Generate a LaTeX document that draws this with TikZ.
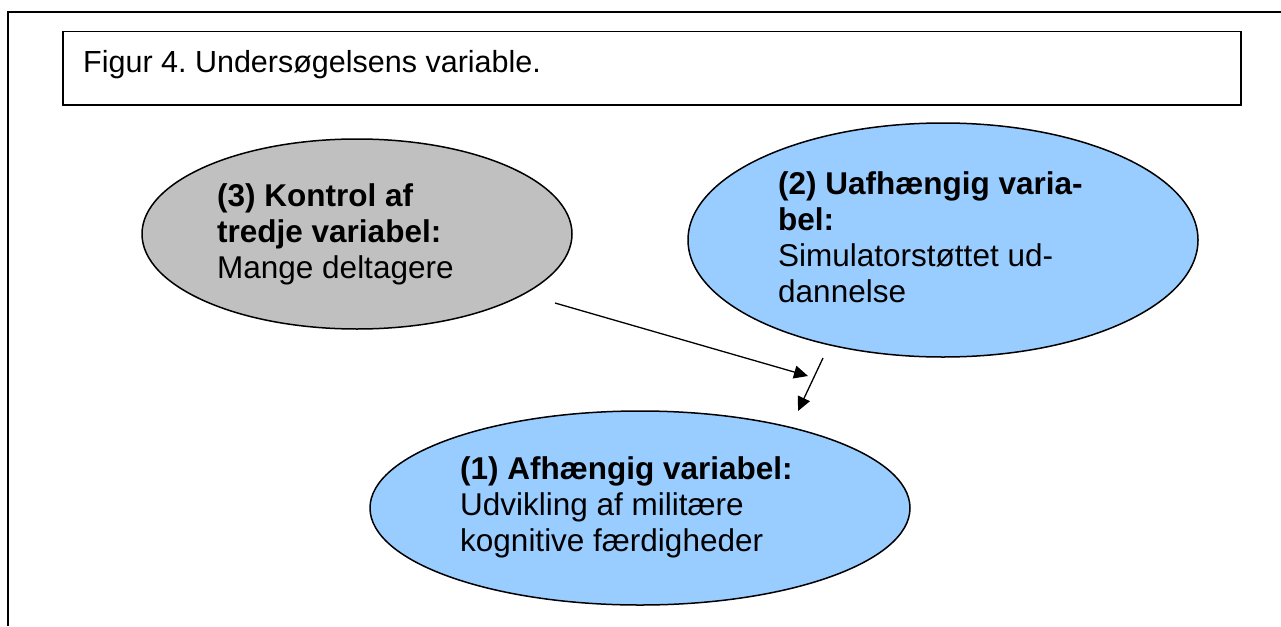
\documentclass[tikz,border=0pt]{standalone}
\usepackage{fontspec}
\setmainfont{Liberation Sans}
\usetikzlibrary{shapes.geometric,arrows.meta}
\definecolor{grayfill}{HTML}{C0C0C0}
\definecolor{bluefill}{HTML}{99CCFF}
\frenchspacing
\tikzset{
  oval/.style={ellipse, draw=black, line width=1.5pt, inner sep=0pt},
  txt/.style={anchor=base west, inner sep=0pt, font=\fontsize{31.5}{36}\selectfont},
  btxt/.style={txt, font=\fontsize{31.5}{36}\selectfont\bfseries},
  conn/.style={line width=1.3pt, -{Triangle[length=14pt,width=13pt]}},
}
\begin{document}
\begin{tikzpicture}[x=1pt,y=-1pt]
\useasboundingbox (0,0) rectangle (1281,626);
% outer frame (left and top)
\draw[line width=2pt] (8,626) -- (8,12) -- (1281,12);
% title box
\node[draw=black, line width=1.5pt, minimum width=1178pt, minimum height=73pt, inner sep=0pt, anchor=north west] (title) at (62,31) {};
\node[txt, font=\fontsize{30.5}{36}\selectfont] (titletext) at (83,72) {Figur 4. Undersøgelsens variable.};
% ellipses
\node[oval, fill=grayfill, minimum width=430pt, minimum height=190pt] (e3) at (357,234) {};
\node[oval, fill=bluefill, minimum width=510pt, minimum height=234pt] (e2) at (943,240) {};
\node[oval, fill=bluefill, minimum width=540pt, minimum height=194pt] (e1) at (640,508) {};
% texts
\node[btxt] (t3a) at (217,206) {(3) Kontrol af};
\node[btxt] (t3b) at (217,242) {tredje variabel:};
\node[txt]  (t3c) at (217,278) {Mange deltagere};
\node[btxt] (t2a) at (778,194) {(2) Uafhængig varia-};
\node[btxt] (t2b) at (778,230) {bel:};
\node[txt]  (t2c) at (778,266) {Simulatorstøttet ud-};
\node[txt]  (t2d) at (778,302) {dannelse};
\node[btxt] (t1a) at (460,479) {(1) Afhængig variabel:};
\node[txt]  (t1b) at (460,515) {Udvikling af militære};
\node[txt]  (t1c) at (460,551) {kognitive færdigheder};
% connectors
\coordinate (a1s) at (555,303);
\coordinate (a1e) at (808,376);
\coordinate (a2s) at (823,358);
\coordinate (a2e) at (798,411);
\draw[conn] (a1s) -- (a1e);
\draw[conn] (a2s) -- (a2e);
\end{tikzpicture}
\end{document}
